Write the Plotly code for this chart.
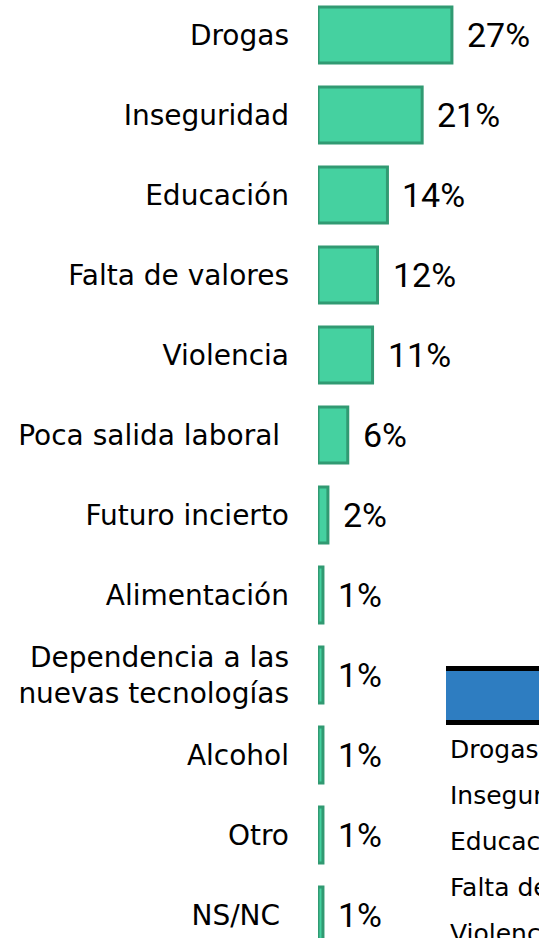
import plotly.graph_objects as go

# Survey categories and their shares (%)
categories = [
    "Drogas",
    "Inseguridad",
    "Educación",
    "Falta de valores",
    "Violencia",
    "Poca salida laboral\u00a0",
    "Futuro incierto",
    "Alimentación",
    "Dependencia a las<br>nuevas tecnologías",
    "Alcohol",
    "Otro",
    "NS/NC\u00a0",
]
values = [27, 21, 14, 12, 11, 6, 2, 1, 1, 1, 1, 1]

# Rows of the small summary table at the lower right
table_rows = ["Drogas", "Inseguridad", "Educación", "Falta de valores", "Violencia"]

W, H = 539, 938
LABEL_FONT = "DejaVu Sans, sans-serif"
VALUE_FONT = "Roboto, Liberation Sans, Arial, sans-serif"

positions = list(range(len(categories)))

fig = go.Figure()
fig.add_trace(go.Bar(
    x=values,
    y=positions,
    orientation="h",
    width=0.7,
    marker=dict(color="#45d1a0", line=dict(color="#319a72", width=3)),
    hoverinfo="skip",
))

# value labels to the right of each bar
for pos, v in zip(positions, values):
    fig.add_annotation(
        x=v, y=pos, xref="x", yref="y",
        text=f"{v}%", showarrow=False,
        xanchor="left", yanchor="middle", xshift=13,
        font=dict(family=VALUE_FONT, size=34, color="#000000"),
    )

# summary table header: black rules around a blue band
def py(p):
    return 1 - p / H

left = (446 - 318) / (W - 318)
fig.add_shape(type="rect", xref="paper", yref="paper",
              x0=left, x1=1.2, y0=py(720), y1=py(671),
              fillcolor="#2e7dc1", line=dict(width=0))
fig.add_shape(type="rect", xref="paper", yref="paper",
              x0=left, x1=1.2, y0=py(671), y1=py(666),
              fillcolor="#000000", line=dict(width=0))
fig.add_shape(type="rect", xref="paper", yref="paper",
              x0=left, x1=1.2, y0=py(725), y1=py(720),
              fillcolor="#000000", line=dict(width=0))

for i, row in enumerate(table_rows):
    fig.add_annotation(
        x=(448 - 318) / (W - 318), y=py(749 + 46 * i),
        xref="paper", yref="paper",
        text=row, showarrow=False,
        xanchor="left", yanchor="middle",
        font=dict(family=LABEL_FONT, size=25, color="#000000"),
    )

px_per_unit = 80.0
y_top = -35 / px_per_unit
y_bottom = y_top + H / px_per_unit

fig.update_layout(
    width=W, height=H,
    margin=dict(l=318, r=0, t=0, b=0),
    paper_bgcolor="#ffffff",
    plot_bgcolor="#ffffff",
    showlegend=False,
    xaxis=dict(range=[0, (W - 318) / 4.96], visible=False, fixedrange=True),
    yaxis=dict(
        range=[y_bottom, y_top],
        tickvals=positions, ticktext=categories,
        showgrid=False, zeroline=False, showline=False,
        ticks="", ticklabelstandoff=28,
        tickfont=dict(family=LABEL_FONT, size=28, color="#000000"),
        fixedrange=True,
    ),
)

fig.write_html("out.html")
